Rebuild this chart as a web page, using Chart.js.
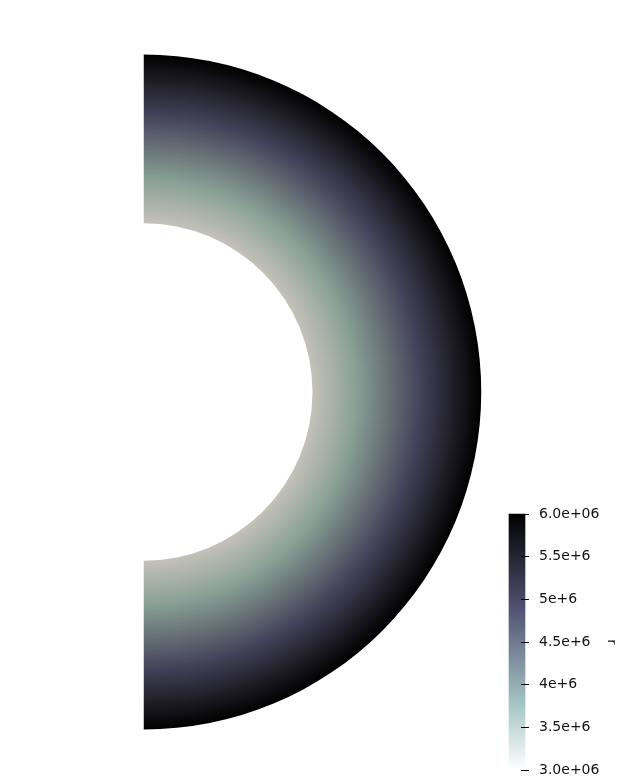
<!DOCTYPE html>
<html><head><meta charset="utf-8">
<script src="https://cdn.jsdelivr.net/npm/chart.js@4/dist/chart.umd.min.js"></script>
<style>
html,body{margin:0;padding:0;background:#fff;}
body{width:625px;height:784px;position:relative;overflow:hidden;}
#field{position:absolute;left:0;top:0;}
#bar{position:absolute;left:500px;top:497px;}
</style></head><body>
<canvas id="field" width="625" height="784"></canvas>
<canvas id="bar" width="125" height="290"></canvas>
<script>
// ---- data ----
const fieldName = 'r';
const rRange = [3.0e6, 6.0e6];
const tickValues = [3.0e6, 3.5e6, 4.0e6, 4.5e6, 5.0e6, 5.5e6, 6.0e6];
const tickLabels = ['3.0e+06', '3.5e+6', '4e+6', '4.5e+6', '5e+6', '5.5e+6', '6.0e+06'];
// colormap (inverted "bone"), stops as fraction from r min to r max
const cmapStops = [0, 0.254, 0.635, 1];
const barColors = ['#ffffff', '#a6c6c6', '#515171', '#000000'];
const surfaceColors = ['#c4c1b9', '#8aa196', '#45435a', '#000000'];

Chart.defaults.font.family = "'DejaVu Sans', sans-serif";

new Chart(document.getElementById('field'), {
  type: 'doughnut',
  data: {
    labels: [fieldName],
    datasets: [{
      data: [rRange[1] - rRange[0]],
      borderWidth: 0,
      backgroundColor: (c) => {
        const chart = c.chart;
        const area = chart.chartArea;
        const ctrl = chart.getDatasetMeta(0).controller;
        if (!area || !ctrl || !ctrl.outerRadius) return surfaceColors[1];
        const cx = (area.left + area.right) / 2 + ctrl.offsetX;
        const cy = (area.top + area.bottom) / 2 + ctrl.offsetY;
        const g = chart.ctx.createRadialGradient(cx, cy, ctrl.innerRadius, cx, cy, ctrl.outerRadius);
        cmapStops.forEach((s, i) => g.addColorStop(s, surfaceColors[i]));
        return g;
      }
    }]
  },
  options: {
    responsive: false, animation: false, events: [],
    rotation: 0, circumference: 180, cutout: '50%', radius: 337.5,
    layout: { padding: 0 },
    plugins: { legend: { display: false }, tooltip: { enabled: false } }
  }
});

new Chart(document.getElementById('bar'), {
  type: 'bar',
  data: {
    labels: [fieldName],
    datasets: [{
      data: [rRange],
      barThickness: 16,
      borderWidth: 0,
      clip: false,
      backgroundColor: (c) => {
        const chart = c.chart;
        if (!chart.chartArea) return barColors[1];
        const y = chart.scales.y;
        const g = chart.ctx.createLinearGradient(0, y.getPixelForValue(rRange[0]), 0, y.getPixelForValue(rRange[1]));
        cmapStops.forEach((s, i) => g.addColorStop(s, barColors[i]));
        return g;
      }
    }]
  },
  options: {
    responsive: false, animation: false, events: [],
    layout: { padding: { left: 17, top: 0, bottom: 0, right: 0 } },
    plugins: { legend: { display: false }, tooltip: { enabled: false } },
    scales: {
      x: { display: false, offset: false },
      y: {
        position: 'right', min: rRange[0], max: rRange[1],
        afterBuildTicks: (s) => { s.ticks = tickValues.map(v => ({ value: v })); },
        afterFit: (s) => { s.width = 104; },
        grid: { drawOnChartArea: false, drawTicks: true, tickLength: 8, color: '#000', lineWidth: 1, z: 1 },
        border: { display: false },
        ticks: { callback: (v, i) => tickLabels[i], padding: 10, color: '#111', font: { size: 14, lineHeight: 1 } },
        title: { display: true, text: fieldName, color: '#111', font: { size: 12 }, padding: { top: 7, bottom: 0 } }
      }
    }
  }
});
</script>
</body></html>
